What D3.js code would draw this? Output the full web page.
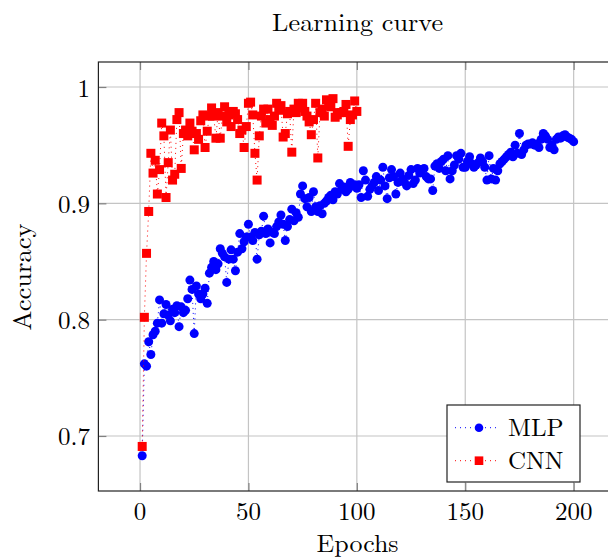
<!DOCTYPE html>
<html>
<head>
<meta charset="utf-8">
<script src="https://cdn.jsdelivr.net/npm/d3@7"></script>
<style>
  html, body { margin: 0; padding: 0; background: #fff; }
  svg { display: block; }
  text { font-family: "Latin Modern Roman", "CMU Serif", "Liberation Serif", serif; fill: #000; }
</style>
</head>
<body>
<svg id="chart" width="608" height="560"></svg>
<script>
// ---------- data ----------
const title = "Learning curve";
const xLabel = "Epochs";
const yLabel = "Accuracy";
const seriesNames = ["MLP", "CNN"];
const seriesColors = ["#0000ff", "#ff0000"];
const xTicks = [0, 50, 100, 150, 200];
const xTickLabels = ["0", "50", "100", "150", "200"];
const yTicks = [0.7, 0.8, 0.9, 1.0];
const yTickLabels = ["0.7", "0.8", "0.9", "1"];

const mlpAcc = [
  0.683, 0.762, 0.760, 0.781, 0.770, 0.787, 0.790, 0.797, 0.817, 0.797,
  0.805, 0.813, 0.804, 0.799, 0.809, 0.806, 0.812, 0.794, 0.811, 0.806,
  0.808, 0.818, 0.834, 0.826, 0.788, 0.829, 0.822, 0.818, 0.822, 0.827,
  0.814, 0.840, 0.845, 0.850, 0.843, 0.848, 0.861, 0.857, 0.854, 0.832,
  0.852, 0.860, 0.852, 0.842, 0.858, 0.874, 0.861, 0.867, 0.871, 0.882,
  0.871, 0.868, 0.875, 0.852, 0.873, 0.876, 0.889, 0.874, 0.878, 0.866,
  0.875, 0.874, 0.880, 0.884, 0.890, 0.882, 0.868, 0.880, 0.886, 0.895,
  0.885, 0.892, 0.888, 0.908, 0.915, 0.904, 0.897, 0.905, 0.893, 0.910,
  0.897, 0.893, 0.898, 0.891, 0.900, 0.902, 0.905, 0.907, 0.903, 0.910,
  0.908, 0.917, 0.912, 0.914, 0.910, 0.912, 0.918, 0.915, 0.916, 0.913,
  0.916, 0.905, 0.928, 0.920, 0.906, 0.912, 0.915, 0.918, 0.923, 0.911,
  0.920, 0.931, 0.915, 0.904, 0.922, 0.929, 0.923, 0.908, 0.918, 0.926,
  0.921, 0.918, 0.915, 0.924, 0.929, 0.917, 0.920, 0.930, 0.926, 0.929,
  0.930, 0.923, 0.921, 0.921, 0.911, 0.932, 0.934, 0.930, 0.936, 0.938,
  0.928, 0.941, 0.921, 0.928, 0.933, 0.941, 0.938, 0.943, 0.931, 0.931,
  0.936, 0.940, 0.934, 0.931, 0.933, 0.935, 0.939, 0.936, 0.931, 0.920,
  0.941, 0.921, 0.930, 0.920, 0.928, 0.934, 0.936, 0.938, 0.940, 0.942,
  0.944, 0.940, 0.950, 0.943, 0.960, 0.942, 0.946, 0.950, 0.951, 0.951,
  0.952, 0.950, 0.951, 0.948, 0.955, 0.960, 0.958, 0.955, 0.948, 0.950,
  0.946, 0.955, 0.957, 0.956, 0.958, 0.959, 0.957, 0.956, 0.955, 0.953
];

const cnnAcc = [
  0.691, 0.802, 0.857, 0.893, 0.943, 0.926, 0.937, 0.908, 0.929, 0.969,
  0.958, 0.905, 0.935, 0.963, 0.920, 0.925, 0.972, 0.978, 0.930, 0.960,
  0.963, 0.958, 0.969, 0.962, 0.946, 0.960, 0.955, 0.971, 0.976, 0.948,
  0.962, 0.975, 0.982, 0.975, 0.956, 0.978, 0.956, 0.975, 0.983, 0.970,
  0.976, 0.966, 0.979, 0.977, 0.972, 0.960, 0.963, 0.948, 0.966, 0.986,
  0.987, 0.976, 0.943, 0.920, 0.958, 0.975, 0.981, 0.969, 0.981, 0.972,
  0.967, 0.975, 0.986, 0.980, 0.984, 0.957, 0.960, 0.977, 0.979, 0.944,
  0.981, 0.978, 0.986, 0.982, 0.986, 0.979, 0.975, 0.970, 0.959, 0.972,
  0.986, 0.939, 0.978, 0.981, 0.975, 0.989, 0.984, 0.983, 0.990, 0.974,
  0.976, 0.978, 0.978, 0.979, 0.985, 0.949, 0.972, 0.976, 0.988, 0.979
];

const mlpEpochs = mlpAcc.map((_, i) => i + 1);
const cnnEpochs = cnnAcc.map((_, i) => i + 1);

// ---------- drawing ----------
(function draw() {
  const svg = d3.select("#chart");
  const pLeft = 98.4, pRight = 616.8, pTop = 62, pBottom = 491;

  const x = d3.scaleLinear().domain([-19.2, 219.9]).range([pLeft, pRight]);
  const y = d3.scaleLinear().domain([0.6527, 1.0215]).range([pBottom, pTop]);

  const gridColor = "#c4c4c4";

  const grid = svg.append("g");
  grid.selectAll("line.gx").data(xTicks).join("line")
    .attr("class", "gx")
    .attr("x1", d => x(d)).attr("x2", d => x(d))
    .attr("y1", pTop).attr("y2", pBottom)
    .attr("stroke", gridColor).attr("stroke-width", 1.2);
  grid.selectAll("line.gy").data(yTicks).join("line")
    .attr("class", "gy")
    .attr("x1", pLeft).attr("x2", pRight)
    .attr("y1", d => y(d)).attr("y2", d => y(d))
    .attr("stroke", gridColor).attr("stroke-width", 1.2);

  const xAxisB = d3.axisBottom(x).tickValues(xTicks).tickSize(-8).tickFormat(() => "");
  const xAxisT = d3.axisTop(x).tickValues(xTicks).tickSize(-8).tickFormat(() => "");
  const yAxisL = d3.axisLeft(y).tickValues(yTicks).tickSize(-8).tickFormat(() => "");
  const yAxisR = d3.axisRight(y).tickValues(yTicks).tickSize(-8).tickFormat(() => "");

  function styleAxis(g) {
    g.select(".domain").remove();
    g.selectAll(".tick line").attr("stroke", "#808080").attr("stroke-width", 1.2);
  }
  svg.append("g").attr("transform", `translate(0,${pBottom})`).call(xAxisB).call(styleAxis);
  svg.append("g").attr("transform", `translate(0,${pTop})`).call(xAxisT).call(styleAxis);
  svg.append("g").attr("transform", `translate(${pLeft},0)`).call(yAxisL).call(styleAxis);
  svg.append("g").attr("transform", `translate(${pRight},0)`).call(yAxisR).call(styleAxis);

  svg.append("g").selectAll("text").data(xTicks).join("text")
    .attr("x", d => x(d)).attr("y", 520)
    .attr("text-anchor", "middle").attr("font-size", 25)
    .text((d, i) => xTickLabels[i]);
  svg.append("g").selectAll("text").data(yTicks).join("text")
    .attr("x", 90).attr("y", d => y(d) + 9.5)
    .attr("text-anchor", "end").attr("font-size", 25)
    .text((d, i) => yTickLabels[i]);

  const series = [
    { name: seriesNames[0], xs: mlpEpochs, ys: mlpAcc, color: seriesColors[0], mark: "circle" },
    { name: seriesNames[1], xs: cnnEpochs, ys: cnnAcc, color: seriesColors[1], mark: "square" }
  ];

  const clipId = "plotclip";
  svg.append("clipPath").attr("id", clipId).append("rect")
    .attr("x", pLeft).attr("y", pTop).attr("width", pRight - pLeft).attr("height", pBottom - pTop);

  const line = d3.line();
  series.forEach(s => {
    const pts = s.xs.map((xv, i) => [x(xv), y(s.ys[i])]);
    const g = svg.append("g");
    g.append("path")
      .attr("d", line(pts))
      .attr("fill", "none").attr("stroke", s.color)
      .attr("stroke-width", 1).attr("stroke-dasharray", "1,4")
      .attr("clip-path", `url(#${clipId})`);
    if (s.mark === "circle") {
      g.selectAll("circle").data(pts).join("circle")
        .attr("cx", d => d[0]).attr("cy", d => d[1]).attr("r", 4.5)
        .attr("fill", s.color);
    } else {
      g.selectAll("rect").data(pts).join("rect")
        .attr("x", d => d[0] - 4.5).attr("y", d => d[1] - 4.5)
        .attr("width", 9).attr("height", 9)
        .attr("fill", s.color);
    }
  });

  svg.append("rect")
    .attr("x", pLeft).attr("y", pTop).attr("width", pRight - pLeft).attr("height", pBottom - pTop)
    .attr("fill", "none").attr("stroke", "#222").attr("stroke-width", 1.2);

  svg.append("text").attr("x", (pLeft + pRight) / 2).attr("y", 31)
    .attr("text-anchor", "middle").attr("font-size", 25)
    .attr("textLength", 171).attr("lengthAdjust", "spacingAndGlyphs")
    .text(title);
  svg.append("text").attr("x", (pLeft + pRight) / 2).attr("y", 552)
    .attr("text-anchor", "middle").attr("font-size", 25)
    .attr("textLength", 82).attr("lengthAdjust", "spacingAndGlyphs")
    .text(xLabel);
  svg.append("text")
    .attr("transform", `translate(31,277) rotate(-90)`)
    .attr("text-anchor", "middle").attr("font-size", 25)
    .attr("textLength", 107).attr("lengthAdjust", "spacingAndGlyphs")
    .text(yLabel);

  const lg = svg.append("g");
  lg.append("rect").attr("x", 447).attr("y", 405).attr("width", 133).attr("height", 77)
    .attr("fill", "#fff").attr("stroke", "#222").attr("stroke-width", 1.2);
  const legendYs = [427.7, 460.7];
  series.forEach((s, i) => {
    const ly = legendYs[i];
    lg.append("line").attr("x1", 455).attr("x2", 500).attr("y1", ly).attr("y2", ly)
      .attr("stroke", s.color).attr("stroke-width", 1).attr("stroke-dasharray", "1,4");
    if (s.mark === "circle") {
      lg.append("circle").attr("cx", 479).attr("cy", ly).attr("r", 4.3).attr("fill", s.color);
    } else {
      lg.append("rect").attr("x", 479 - 4.3).attr("y", ly - 4.3).attr("width", 8.6).attr("height", 8.6).attr("fill", s.color);
    }
    lg.append("text").attr("x", 508).attr("y", ly + 8.5).attr("font-size", 25).text(s.name);
  });
})();
</script>
</body>
</html>
